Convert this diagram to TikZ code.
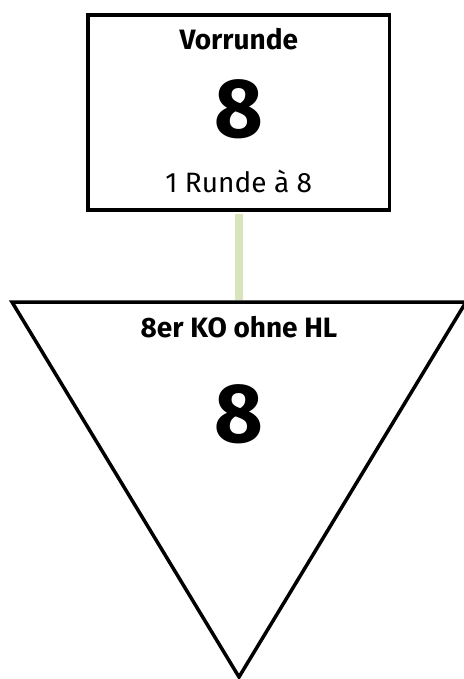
\documentclass[tikz,border=0pt]{standalone}
\usepackage{fontspec}
\setmainfont{Fira Sans}
\usetikzlibrary{positioning}
\definecolor{linkgreen}{RGB}{215,228,188}

\begin{document}
\begin{tikzpicture}[
    x=1pt,
    y=-1pt,
    stage/.style={
        rectangle,
        draw,
        line width=3.5pt,
        minimum width=301.5pt,
        minimum height=195pt,
        inner sep=0pt
    },
    title/.style={
        anchor=base,
        font=\fontsize{28}{32}\selectfont\bfseries
    },
    count/.style={
        anchor=base,
        font=\fontsize{84}{90}\selectfont\bfseries
    },
    info/.style={
        anchor=base,
        font=\fontsize{28}{32}\selectfont
    },
    knockout/.style={
        draw,
        line width=3.5pt,
        line join=miter
    },
    line/.style={
        draw,
        line width=8pt,
        linkgreen,
        shorten <=1.75pt,
        shorten >=1.75pt
    }
]
\useasboundingbox (0,0) rectangle (463,679);

% Nodes
\node [stage] (vorrunde) at (238.75,112.5) {};
\node [title] (vorrunde-title) at (238.75,50) {Vorrunde};
\node [count] (vorrunde-count) at (238.75,138) {8};
\node [info] (vorrunde-info) at (238.75,193) {1 Runde à 8};

\coordinate (ko-left) at (12,302);
\coordinate (ko-right) at (466,302);
\coordinate (ko-apex) at (239,677);
\coordinate (ko-top) at (239,302);
\path [knockout] (ko-left) -- (ko-right) -- (ko-apex) -- cycle;
\node [title] (ko-title) at (239,337) {8er KO ohne HL};
\node [count] (ko-count) at (239,442) {8};

% Edges
\path [line] (vorrunde.south -| ko-top) -- (ko-top);

\end{tikzpicture}
\end{document}
